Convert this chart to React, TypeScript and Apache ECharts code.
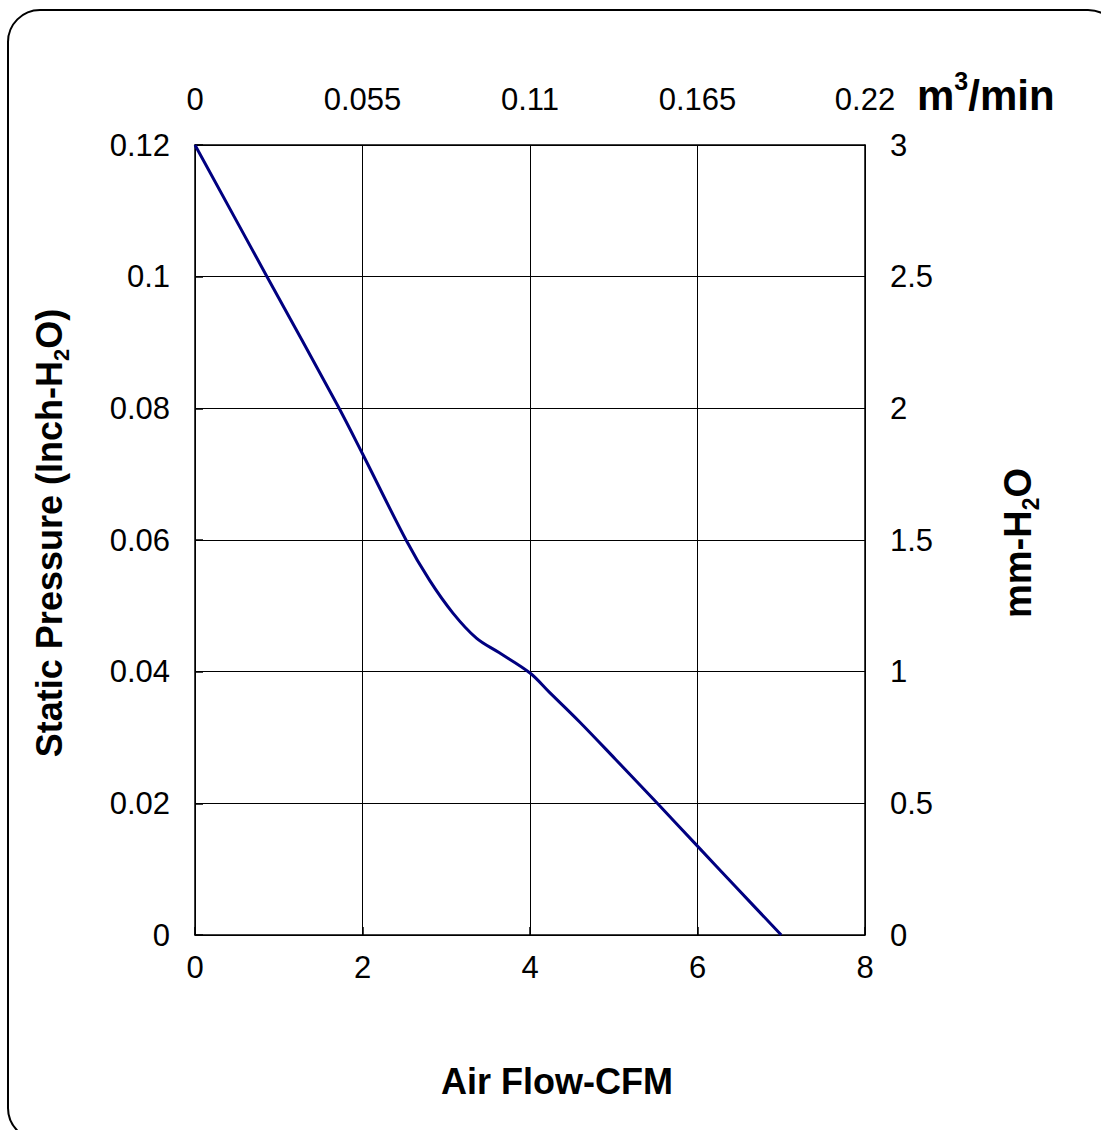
import React, { useEffect, useRef } from "react";
import * as echarts from "echarts";

// Air flow (CFM)
const cfm = [0, 0.86, 1.7, 2.0, 2.52, 2.8, 3.08, 3.36, 3.63, 4.0, 4.23, 4.59, 5.02, 5.52, 6.0, 6.45, 7.0];
// Static pressure (Inch-H2O)
const pressure = [0.12, 0.1, 0.0805, 0.0731, 0.06, 0.0539, 0.0489, 0.0451, 0.0429, 0.0398, 0.0369, 0.0324, 0.0267, 0.02, 0.0135, 0.0074, 0];

const FONT = "'Liberation Sans', Arial, Helvetica, sans-serif";

const fmt = (v: number) => String(parseFloat(Number(v).toFixed(4)));

export default function App() {
  const ref = useRef<HTMLDivElement>(null);
  useEffect(() => {
    if (!ref.current) return;
    const chart = echarts.init(ref.current, null, { renderer: "svg" });
    const tickLabel = { color: "#000", fontSize: 31, fontFamily: FONT };
    const axisLine = { show: true, onZero: false, lineStyle: { color: "#000", width: 1.5 } };
    const main = { fontSize: 36, fontWeight: "bold" as const, fontFamily: FONT, color: "#000", lineHeight: 46 };
    const small = { fontSize: 22, fontWeight: "bold" as const, fontFamily: FONT, color: "#000", lineHeight: 22 };
    const mainR = { ...main, fontSize: 38, lineHeight: 48 };
    const smallR = { ...small, fontSize: 23, lineHeight: 23 };
    const mainM = { ...main, fontSize: 42, lineHeight: 54 };
    const smallM = { ...small, fontSize: 25, lineHeight: 25 };
    chart.setOption({
      animation: false,
      backgroundColor: "#fff",
      grid: { left: 195, right: 236, top: 145, bottom: 195, containLabel: false },
      xAxis: [
        {
          type: "value",
          position: "bottom",
          min: 0,
          max: 8,
          interval: 2,
          axisLine,
          axisTick: { show: true, inside: true, length: 8, lineStyle: { color: "#000", width: 1.5 } },
          axisLabel: { ...tickLabel, margin: 17, formatter: fmt },
          splitLine: { show: true, lineStyle: { color: "#000", width: 1 } },
        },
        {
          type: "value",
          position: "top",
          min: 0,
          max: 0.22,
          interval: 0.055,
          axisLine,
          axisTick: { show: false },
          axisLabel: { ...tickLabel, margin: 30, formatter: fmt },
          splitLine: { show: false },
        },
      ],
      yAxis: [
        {
          type: "value",
          position: "left",
          min: 0,
          max: 0.12,
          interval: 0.02,
          axisLine,
          axisTick: { show: true, inside: true, length: 8, lineStyle: { color: "#000", width: 1.5 } },
          axisLabel: { ...tickLabel, margin: 25, formatter: fmt },
          splitLine: { show: true, lineStyle: { color: "#000", width: 1 } },
        },
        {
          type: "value",
          position: "right",
          min: 0,
          max: 3,
          interval: 0.5,
          axisLine,
          axisTick: { show: false },
          axisLabel: { ...tickLabel, margin: 25, formatter: fmt },
          splitLine: { show: false },
        },
      ],
      series: [
        {
          type: "line",
          xAxisIndex: 0,
          yAxisIndex: 0,
          data: cfm.map((x, i) => [x, pressure[i]]),
          smooth: 0.35,
          showSymbol: false,
          symbol: "none",
          lineStyle: { color: "#000080", width: 3 },
          itemStyle: { color: "#000080" },
          z: 5,
        },
      ],
      graphic: [
        {
          type: "rect",
          shape: { x: 8, y: 10, width: 1112, height: 1130, r: 32 },
          style: { fill: "none", stroke: "#000", lineWidth: 2 },
          silent: true,
        },
        {
          type: "text",
          x: 557,
          y: 1081,
          style: {
            text: "Air Flow-CFM",
            font: `bold 36px ${FONT}`,
            fill: "#000",
            align: "center",
            verticalAlign: "middle",
          },
        },
        {
          type: "text",
          x: 917,
          y: 95,
          style: {
            text: "{a|m}{b|3}{a|/min}",
            rich: { a: { ...mainM }, b: { ...smallM, verticalAlign: "top" } },
            align: "left",
            verticalAlign: "middle",
          },
        },
        {
          type: "text",
          x: 49,
          y: 533,
          rotation: Math.PI / 2,
          style: {
            text: "{a|Static Pressure (Inch-H}{b|2}{a|O)}",
            rich: { a: { ...main }, b: { ...small, verticalAlign: "bottom" } },
            align: "center",
            verticalAlign: "middle",
          },
        },
        {
          type: "text",
          x: 1018,
          y: 543,
          rotation: Math.PI / 2,
          style: {
            text: "{a|mm-H}{b|2}{a|O}",
            rich: { a: { ...mainR }, b: { ...smallR, verticalAlign: "bottom" } },
            align: "center",
            verticalAlign: "middle",
          },
        },
      ],
    });
    return () => chart.dispose();
  }, []);
  return (
    <div
      ref={ref}
      style={{ position: "absolute", left: 0, top: 0, width: 1101, height: 1130 }}
    />
  );
}
